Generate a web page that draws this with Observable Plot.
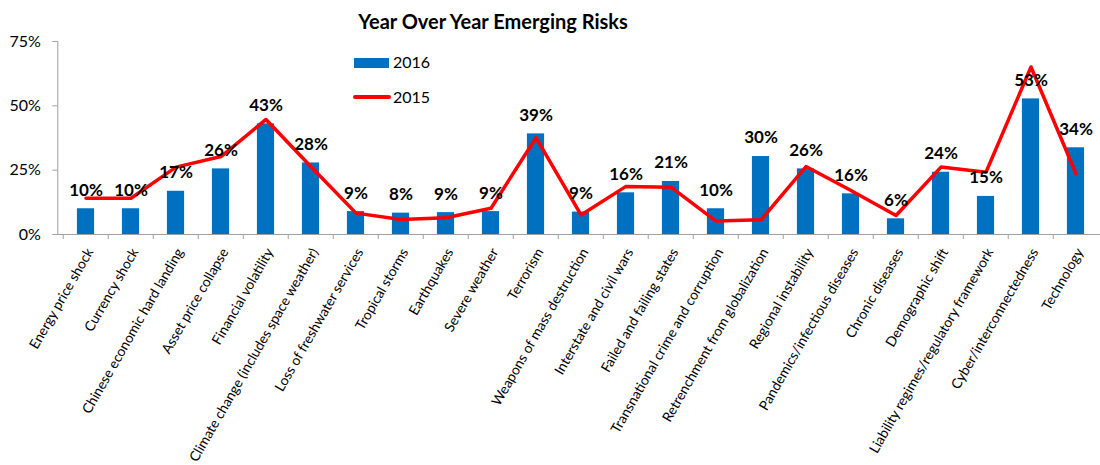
<!DOCTYPE html>
<html>
<head>
<meta charset="utf-8">
<script src="https://cdn.jsdelivr.net/npm/d3@7"></script>
<script src="https://cdn.jsdelivr.net/npm/@observablehq/plot@0.6"></script>
<style>
  html, body { margin: 0; padding: 0; background: #fff; overflow: hidden; }
  #wrap { position: relative; width: 1100px; height: 465px; font-family: Lato, "Open Sans", sans-serif; }
  #title { position: absolute; left: 0; width: 986px; top: 8px; text-align: center; font-weight: bold; font-size: 20px; line-height: 26px; color: #000; }
  .lg { position: absolute; font-size: 16px; line-height: 20px; color: #000; }
  .sw { position: absolute; }
  #plot svg { display: block; }
</style>
</head>
<body>
<div id="wrap">
  <div id="plot"></div>
  <div id="title"></div>
  <div id="legend"></div>
</div>
<script>
const title = "Year Over Year Emerging Risks";
const categories = [
  "Energy price shock", "Currency shock", "Chinese economic hard landing", "Asset price collapse",
  "Financial volatility", "Climate change (includes space weather)", "Loss of freshwater services",
  "Tropical storms", "Earthquakes", "Severe weather", "Terrorism", "Weapons of mass destruction",
  "Interstate and civil wars", "Failed and failing states", "Transnational crime and corruption",
  "Retrenchment from globalization", "Regional instability", "Pandemics/infectious diseases",
  "Chronic diseases", "Demographic shift", "Liability regimes/regulatory framework",
  "Cyber/interconnectedness", "Technology"
];
const values2016 = [10.0, 10.0, 16.8, 25.5, 43.0, 27.8, 8.9, 8.3, 8.5, 8.9, 39.1, 8.7, 16.2, 20.6, 10.0, 30.3, 25.5, 15.8, 6.1, 24.2, 14.8, 52.7, 33.7];
const values2015 = [14.1, 14.1, 26.2, 30.3, 44.7, 26.3, 8.3, 5.8, 6.5, 10.2, 37.6, 7.6, 18.7, 18.4, 5.2, 5.7, 26.4, 17.1, 7.4, 26.2, 24.2, 65.1, 23.6];
const seriesNames = ["2016", "2015"];
const yTicks = [0, 25, 50, 75];
const colors = {bar: "#0070C0", line: "#FF0000", axis: "#A0A0A0"};

const data = categories.map((c, i) => ({cat: c, v2016: values2016[i], v2015: values2015[i]}));

const x0 = 57.3, x1 = 1104.3;
const step = (x1 - x0) / categories.length;
const barW = 17.7;

const chart = Plot.plot({
  width: 1100,
  height: 465,
  marginLeft: x0,
  marginRight: 0,
  marginTop: 41,
  marginBottom: 231,
  style: {fontFamily: "Lato, 'Open Sans', sans-serif", background: "transparent", overflow: "visible"},
  x: {domain: categories, range: [x0, x1], padding: 0},
  y: {domain: [0, 75]},
  marks: [
    Plot.ruleY([0], {stroke: colors.axis}),
    Plot.frame({anchor: "left", stroke: colors.axis}),
    Plot.axisY({ticks: yTicks, tickFormat: d => d + "%", tickSize: 5, tickPadding: 12, fontSize: 16, stroke: colors.axis, fill: "#000", label: null}),
    Plot.axisX({tickSize: 5, fill: "none", stroke: colors.axis, dx: -step / 2, label: null}),
    Plot.axisX({tickSize: 0, tickPadding: 15, tickRotate: -60, fontSize: 13.8, fill: "#000", stroke: "none", dx: 4, label: null}),
    Plot.barY(data, {x: "cat", y: "v2016", fill: colors.bar, insetLeft: (step - barW) / 2, insetRight: (step - barW) / 2}),
    Plot.line(data, {x: "cat", y: "v2015", stroke: colors.line, strokeWidth: 3.5, strokeLinejoin: "round", strokeLinecap: "round"}),
    Plot.text(data, {x: "cat", y: "v2016", text: d => Math.round(d.v2016) + "%", dy: -18.5, fontSize: 17, fontWeight: "bold", fill: "#000"})
  ]
});
document.getElementById("plot").appendChild(chart);
document.getElementById("title").textContent = title;

const lg = document.getElementById("legend");
lg.innerHTML = `
  <div class="sw" style="left:354px;top:57.5px;width:35px;height:10px;background:${colors.bar}"></div>
  <div class="lg" style="left:393px;top:52px">${seriesNames[0]}</div>
  <div class="sw" style="left:353px;top:95px;width:38px;height:3.5px;border-radius:2px;background:${colors.line}"></div>
  <div class="lg" style="left:393px;top:86.5px">${seriesNames[1]}</div>`;
</script>
</body>
</html>
